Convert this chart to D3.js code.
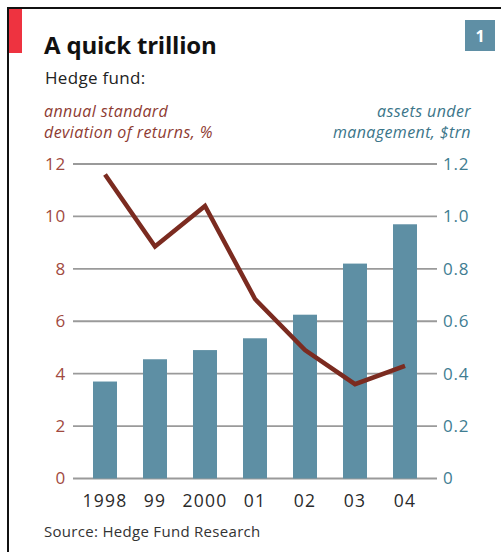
<!DOCTYPE html>
<html>
<head>
<meta charset="utf-8">
<script src="https://cdn.jsdelivr.net/npm/d3@7"></script>
<style>
  html, body { margin: 0; padding: 0; background: #fff; }
  svg { display: block; }
  text { font-family: "Open Sans", "Lato", sans-serif; }
</style>
</head>
<body>
<svg id="chart" width="501" height="552"></svg>
<script>
// Hedge fund volatility vs. assets under management
const years = ["1998", "99", "2000", "01", "02", "03", "04"];
const assetsTrn = [0.37, 0.455, 0.49, 0.535, 0.625, 0.82, 0.97];   // bars, right axis
const stdDevPct = [11.6, 8.85, 10.4, 6.85, 4.9, 3.6, 4.3];         // line, left axis
const leftTicks = [0, 2, 4, 6, 8, 10, 12];
const rightTicks = [0, 0.2, 0.4, 0.6, 0.8, 1.0, 1.2];

const svg = d3.select("#chart");

const plotLeft = 73, plotRight = 437, plotTop = 164, plotBottom = 478.5;

const x = d3.scaleBand().domain(years).range([80, 430])
  .paddingInner(0.52).paddingOuter(0.26);
const yL = d3.scaleLinear().domain([0, 12]).range([plotBottom, plotTop]);
const yR = d3.scaleLinear().domain([0, 1.2]).range([plotBottom, plotTop]);

// frame
svg.append("line").attr("x1", 8).attr("x2", 501).attr("y1", 8).attr("y2", 8)
  .attr("stroke", "#111").attr("stroke-width", 2);
svg.append("line").attr("x1", 8).attr("x2", 8).attr("y1", 7).attr("y2", 552)
  .attr("stroke", "#111").attr("stroke-width", 2);
svg.append("rect").attr("x", 9).attr("y", 9).attr("width", 13).attr("height", 44)
  .attr("fill", "#ee3340");

// number badge
svg.append("rect").attr("x", 465).attr("y", 20).attr("width", 30).attr("height", 31)
  .attr("fill", "#5f8fa5");
svg.append("text").attr("x", 480).attr("y", 42).attr("text-anchor", "middle")
  .attr("fill", "#fff").attr("font-size", 16).attr("font-weight", "bold").text("1");

// titles
svg.append("text").attr("x", 44).attr("y", 54).attr("font-size", 24)
  .attr("font-weight", "bold").attr("fill", "#111").attr("letter-spacing", -0.2)
  .text("A quick trillion");
svg.append("text").attr("x", 45).attr("y", 84).attr("font-size", 17)
  .attr("fill", "#222").attr("letter-spacing", 0.3).text("Hedge fund:");

const leftLabel = svg.append("text").attr("font-size", 16).attr("font-style", "italic")
  .attr("letter-spacing", 0.4).attr("fill", "#8e3b32");
leftLabel.append("tspan").attr("x", 44).attr("y", 117).text("annual standard");
leftLabel.append("tspan").attr("x", 44).attr("y", 138).text("deviation of returns, %");

const rightLabel = svg.append("text").attr("font-size", 16).attr("font-style", "italic")
  .attr("letter-spacing", 0.4).attr("fill", "#3b7589").attr("text-anchor", "end");
rightLabel.append("tspan").attr("x", 471).attr("y", 117).text("assets under");
rightLabel.append("tspan").attr("x", 471).attr("y", 138).text("management, $trn");

// gridlines
svg.append("g").selectAll("line").data(leftTicks).join("line")
  .attr("x1", plotLeft).attr("x2", plotRight)
  .attr("y1", d => yL(d)).attr("y2", d => yL(d))
  .attr("stroke", "#9a9a9a").attr("stroke-width", 1.8);

// left axis
const gL = svg.append("g").attr("transform", `translate(${plotLeft},0)`)
  .call(d3.axisLeft(yL).tickValues(leftTicks).tickSize(0).tickPadding(7));
gL.select(".domain").remove();
gL.selectAll("text").attr("font-size", 17).attr("fill", "#a14a3f")
  .attr("letter-spacing", 0.8).attr("font-family", "Open Sans, sans-serif");

// right axis
const gR = svg.append("g").attr("transform", `translate(${plotRight},0)`)
  .call(d3.axisRight(yR).tickValues(rightTicks).tickSize(0).tickPadding(6)
    .tickFormat(d => d === 0 ? "0" : d3.format(".1f")(d)));
gR.select(".domain").remove();
gR.selectAll("text").attr("font-size", 17).attr("fill", "#3f7d92")
  .attr("letter-spacing", 0.8).attr("font-family", "Open Sans, sans-serif");

// bars
svg.append("g").selectAll("rect").data(years).join("rect")
  .attr("x", d => x(d))
  .attr("width", x.bandwidth())
  .attr("y", (d, i) => yR(assetsTrn[i]))
  .attr("height", (d, i) => plotBottom - yR(assetsTrn[i]))
  .attr("fill", "#5e8fa4");

// line
const line = d3.line()
  .x((d, i) => x(years[i]) + x.bandwidth() / 2)
  .y(d => yL(d));
svg.append("path").datum(stdDevPct).attr("d", line)
  .attr("fill", "none").attr("stroke", "#7b2b20").attr("stroke-width", 4.5)
  .attr("stroke-linejoin", "miter");

// x axis labels
const gX = svg.append("g").attr("transform", `translate(0,${plotBottom})`)
  .call(d3.axisBottom(x).tickSize(0).tickPadding(16));
gX.select(".domain").remove();
gX.selectAll("text").attr("font-size", 17.5).attr("fill", "#2a2a2a")
  .attr("letter-spacing", 1.2).attr("font-family", "Open Sans, sans-serif");

// source
svg.append("text").attr("x", 44).attr("y", 537).attr("font-size", 15)
  .attr("letter-spacing", 0.3).attr("fill", "#333").text("Source: Hedge Fund Research");
</script>
</body>
</html>
